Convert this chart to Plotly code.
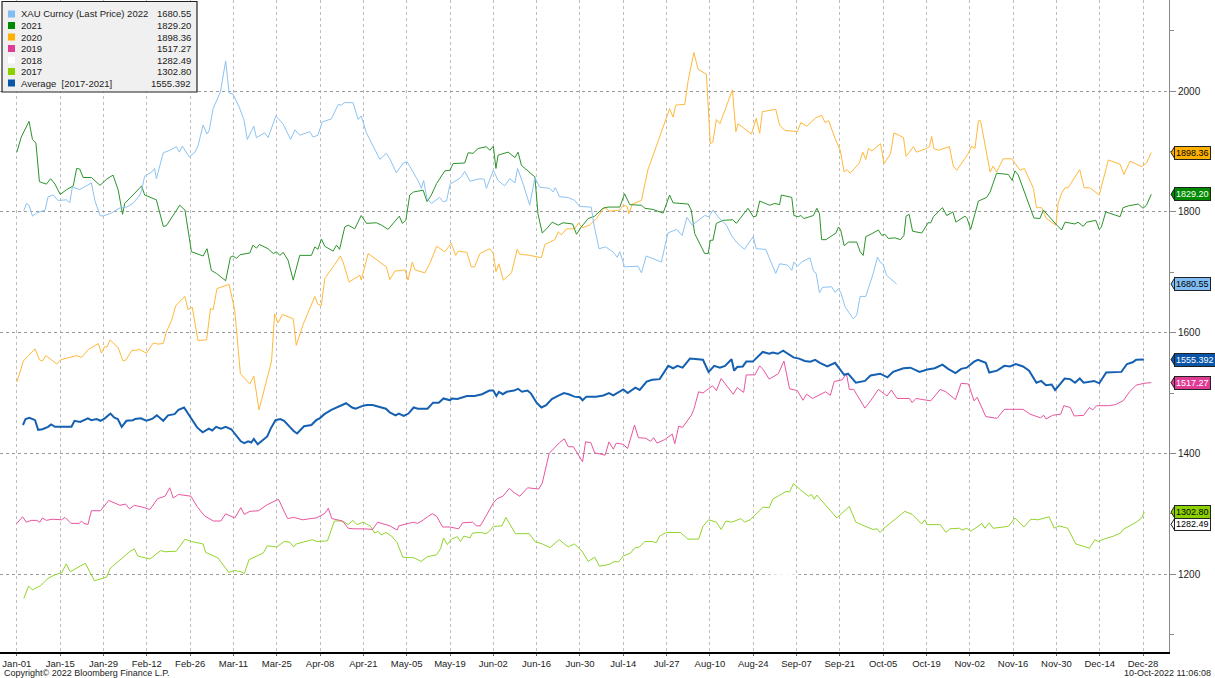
import plotly.graph_objects as go

# x = trading day of the year (0 = Jan-01), y = XAU price
tick_days = list(range(0, 270, 10))
tick_labels = ["Jan-01", "Jan-15", "Jan-29", "Feb-12", "Feb-26", "Mar-11", "Mar-25", "Apr-08",
               "Apr-21", "May-05", "May-19", "Jun-02", "Jun-16", "Jun-30", "Jul-14", "Jul-27",
               "Aug-10", "Aug-24", "Sep-07", "Sep-21", "Oct-05", "Oct-19", "Nov-02", "Nov-16",
               "Nov-30", "Dec-14", "Dec-28"]

d22 = [1.6, 2.2, 2.8, 3.6, 4.5, 6.5, 7.2, 8.4, 9.5, 11.5,
       12.2, 12.8, 14.5, 17.2, 18, 19.2, 19.9, 21.8, 23.6, 25.3,
       26.8, 28.4, 28.8, 29.5, 31.1, 31.8, 32.2, 33.8, 35.3, 36.8,
       37.5, 38.2, 39.8, 41.1, 41.8, 43, 43.9, 44.4, 45.3, 47,
       48.2, 49, 49.9, 51.3, 52.4, 53.2, 54.7, 55.3, 57.2, 58,
       59.8, 61.5, 63.2, 64.2, 65.3, 67.6, 68.4, 69.5, 70.5, 72.6,
       74.2, 74.9, 75.7, 77.6, 78.8, 79.5, 80.7, 82.6, 83.8, 85.3,
       86.1, 87.6, 89.2, 90.1, 91.5, 92.6, 93.4, 93.9, 94.7, 95.7,
       97.6, 98.4, 99.2, 100, 101.9, 102.6, 103.4, 104.6, 106.9, 107.9,
       108.4, 109.2, 110, 111.1, 112.6, 113.8, 115, 115.6, 116.9, 118.4,
       119.6, 120.7, 123, 123.8, 124.3, 125.3, 127.2, 128.8, 129.9, 132.6,
       133.2, 134.4, 135.9, 137.6, 138.6, 139.2, 140.3, 143.4, 144.2, 145.3,
       147.3, 148.8, 150.3, 152.3, 153.6, 154.7, 155.9, 158.8, 159.8, 160.7,
       161.9, 163.8, 165, 166.1, 168, 169.2, 170, 170.7, 172.9, 175.2,
       176.1, 177.9, 178.9, 179.4, 180.2, 181.2, 183.1, 183.9, 184.5, 185.3,
       186, 188.1, 188.9, 189.7, 190.3, 191.2, 193.1, 193.9, 194.7, 196,
       197.7, 198.7, 199.3, 200, 200.8, 203.1]
v22 = [1802, 1814, 1811, 1793, 1798, 1803, 1825, 1828, 1819, 1820,
       1815, 1841, 1837, 1848, 1819, 1794, 1793, 1798, 1806, 1808,
       1814, 1828, 1836, 1859, 1866, 1872, 1855, 1898, 1902, 1908,
       1899, 1909, 1891, 1899, 1909, 1944, 1929, 1935, 1971, 1999,
       2050, 1997, 1995, 1974, 1953, 1920, 1942, 1923, 1931, 1923,
       1959, 1945, 1920, 1936, 1927, 1933, 1924, 1927, 1949, 1954,
       1978, 1977, 1981, 1981, 1953, 1959, 1931, 1905, 1887, 1897,
       1888, 1865, 1881, 1883, 1866, 1852, 1839, 1852, 1822, 1814,
       1824, 1817, 1818, 1846, 1854, 1858, 1867, 1851, 1855, 1854,
       1839, 1854, 1869, 1852, 1843, 1855, 1848, 1872, 1846, 1811,
       1857, 1841, 1839, 1833, 1840, 1825, 1824, 1819, 1809, 1808,
       1780, 1739, 1742, 1734, 1725, 1734, 1709, 1710, 1699, 1727,
       1721, 1717, 1765, 1771, 1761, 1791, 1778, 1794, 1792, 1803,
       1792, 1778, 1761, 1750, 1738, 1752, 1759, 1739, 1738, 1698,
       1714, 1712, 1703, 1717, 1710, 1717, 1724, 1702, 1699, 1666,
       1675, 1676, 1667, 1673, 1665, 1643, 1623, 1629, 1660, 1660,
       1698, 1725, 1717, 1713, 1695, 1680.55]

d21 = [0, 1, 2.8, 3.6, 4.4, 5.2, 6.8, 7.8, 8.8, 10,
       11.5, 13, 13.8, 14.5, 15.3, 17.2, 19.2, 20.7, 22.2, 23.4,
       24.4, 24.9, 26.8, 28.8, 29.5, 32.2, 33.8, 34.5, 37.6, 38.8,
       40.3, 43, 43.9, 44.9, 46.1, 48.2, 49.3, 49.9, 50.7, 51.5,
       53.8, 54.5, 55.3, 56, 58, 59.2, 59.9, 60.7, 61.5, 62.6,
       63.8, 65.3, 68, 68.8, 69.5, 70.3, 71.1, 73, 73.8, 74.5,
       75.7, 76.5, 78, 79.5, 80.7, 83, 84.2, 85.7, 88.3, 89,
       89.8, 90.7, 91.6, 93.8, 94.7, 95.7, 96.9, 98.8, 100, 100.7,
       103.4, 104.2, 105.3, 106.5, 108.4, 109.2, 110, 110.6, 111.1, 113.4,
       115, 115.7, 116.5, 118.8, 119.6, 120.3, 121.3, 122.3, 123.6, 125,
       126.1, 128.3, 129.2, 130.3, 131.9, 133.4, 135.3, 136.5, 139.2, 140.3,
       141.5, 144.2, 145, 146.9, 149.2, 150.7, 151.5, 155, 155.7, 156.5,
       158.8, 159.6, 160.1, 160.7, 161.5, 163, 165.3, 166.1, 168.8, 170,
       170.7, 171.5, 173.8, 175, 176.1, 176.5, 178.9, 179.4, 180.4, 181,
       181.7, 183.9, 184.7, 185.3, 185.8, 186.8, 189.1, 189.7, 190.2, 191,
       192, 193.9, 194.7, 195.4, 196, 197.4, 198.9, 199.7, 200.4, 201.2,
       202.7, 204, 204.8, 205.3, 206, 206.8, 208.9, 210.4, 211, 211.6,
       213.7, 214.7, 216.1, 216.8, 218.9, 219.4, 220.2, 221.2, 222, 223.9,
       224.7, 226.2, 228.9, 229.8, 230.4, 231.2, 234.8, 236.2, 237, 240.1,
       241.2, 242, 244.3, 245, 246.2, 247, 249.1, 249.9, 250.4, 251.4,
       254.7, 255.4, 256.6, 258.9, 260, 260.8, 261.9]
v21 = [1899, 1924, 1950, 1920, 1914, 1850, 1846, 1855, 1846, 1829,
       1837, 1843, 1872, 1871, 1857, 1857, 1844, 1854, 1861, 1836,
       1796, 1814, 1828, 1843, 1828, 1820, 1776, 1777, 1811, 1803,
       1734, 1727, 1739, 1703, 1698, 1686, 1725, 1727, 1723, 1729,
       1732, 1745, 1740, 1746, 1739, 1731, 1734, 1728, 1733, 1720,
       1687, 1728, 1728, 1742, 1738, 1755, 1743, 1735, 1745, 1738,
       1775, 1778, 1772, 1794, 1781, 1782, 1778, 1771, 1793, 1781,
       1786, 1828, 1833, 1836, 1817, 1828, 1847, 1868, 1869, 1880,
       1881, 1898, 1897, 1905, 1908, 1902, 1909, 1872, 1894, 1899,
       1890, 1899, 1877, 1864, 1858, 1797, 1765, 1772, 1783, 1778,
       1782, 1780, 1763, 1775, 1789, 1793, 1806, 1808, 1808, 1830,
       1812, 1811, 1806, 1804, 1798, 1828, 1815, 1813, 1803, 1764,
       1731, 1731, 1753, 1753, 1781, 1786, 1787, 1781, 1806, 1792,
       1793, 1818, 1811, 1814, 1812, 1828, 1824, 1794, 1792, 1794,
       1789, 1794, 1806, 1797, 1754, 1754, 1765, 1775, 1770, 1744,
       1750, 1750, 1734, 1728, 1759, 1764, 1770, 1761, 1763, 1756,
       1757, 1754, 1761, 1793, 1796, 1768, 1765, 1782, 1782, 1792,
       1807, 1794, 1800, 1783, 1793, 1789, 1771, 1797, 1818, 1824,
       1833, 1864, 1862, 1852, 1868, 1861, 1790, 1789, 1803, 1778,
       1770, 1783, 1780, 1783, 1776, 1783, 1786, 1771, 1775, 1800,
       1792, 1807, 1810, 1813, 1806, 1811, 1829.20]

d20 = [0, 1.5, 2.6, 4.2, 5.2, 5.9, 6.7, 9.2, 10.1, 11.1,
       12.2, 13.8, 14.9, 16.5, 18.8, 19.5, 20.3, 20.8, 21.5, 23.4,
       24.5, 25.2, 26.5, 28.4, 29.9, 31.5, 32.6, 33.8, 34.5, 35.7,
       36.7, 38.8, 39.5, 40.5, 41.8, 43.8, 44.7, 45.3, 46.2, 49,
       50.3, 51.6, 53.8, 54.7, 55.9, 58.8, 59.5, 60.3, 61.3, 63.8,
       64.5, 66.1, 68.8, 69.5, 70.3, 71.1, 73.4, 74.7, 75.3, 76.7,
       79.2, 79.5, 81.1, 84.2, 85.3, 86.1, 87.3, 89.6, 90.3, 91.3,
       91.9, 94.2, 95.5, 96.9, 98.8, 100.3, 101.3, 101.9, 103.9, 104.9,
       105.7, 106.9, 109.2, 110, 110.6, 111.3, 112.3, 114.2, 115.5, 116.1,
       118.4, 121.1, 121.9, 124.2, 125, 125.7, 126.9, 128.8, 129.6, 130.7,
       132.2, 133.8, 135.7, 136.9, 139.2, 140, 140.9, 141.3, 142.1, 144.2,
       145.7, 147.6, 149.2, 150.7, 151.5, 152.1, 154.2, 155, 156.3, 157.3,
       159.2, 160.1, 160.7, 161.5, 162.3, 165.2, 166, 166.5, 169.6, 170.7,
       171.5, 172.1, 175.2, 176.1, 177.3, 180.2, 181, 182.4, 184.5, 185.8,
       186.6, 187.4, 188.9, 190.1, 191, 191.6, 192.4, 194.5, 195.3, 196,
       196.6, 197.4, 199.4, 200.2, 201.7, 202.5, 204.7, 205.3, 207, 207.7,
       210, 210.7, 211.2, 211.7, 212.7, 215.3, 216.2, 217, 219.7, 220.4,
       221.2, 222, 222.5, 224.7, 225.4, 226.2, 227.7, 229.7, 231.6, 232.6,
       234.7, 235.4, 236.6, 237.7, 239.9, 240.4, 241.2, 242, 242.7, 245.4,
       246.4, 247.7, 249.9, 250.8, 252, 254.7, 255.6, 257, 259.7, 260.8,
       261.9]
v20 = [1518, 1553, 1562, 1573, 1555, 1553, 1562, 1548, 1555, 1557,
       1560, 1562, 1559, 1572, 1582, 1566, 1577, 1576, 1588, 1575,
       1553, 1555, 1570, 1572, 1566, 1583, 1581, 1582, 1601, 1620,
       1645, 1660, 1638, 1642, 1587, 1588, 1640, 1638, 1673, 1680,
       1637, 1532, 1515, 1528, 1472, 1553, 1631, 1616, 1630, 1623,
       1579, 1614, 1660, 1647, 1645, 1690, 1713, 1727, 1717, 1684,
       1695, 1687, 1731, 1715, 1709, 1688, 1702, 1704, 1687, 1717,
       1704, 1699, 1717, 1743, 1734, 1748, 1728, 1735, 1733, 1709,
       1709, 1731, 1739, 1731, 1701, 1714, 1687, 1699, 1738, 1730,
       1728, 1724, 1746, 1754, 1767, 1762, 1772, 1772, 1781, 1774,
       1778, 1789, 1808, 1801, 1803, 1811, 1809, 1797, 1813, 1819,
       1870, 1908, 1940, 1971, 1957, 1977, 1978, 2018, 2064, 2036,
       2028, 1913, 1916, 1953, 1946, 2002, 1933, 1946, 1929, 1955,
       1930, 1966, 1970, 1944, 1935, 1933, 1948, 1942, 1956, 1960,
       1948, 1951, 1922, 1902, 1866, 1870, 1864, 1881, 1899, 1887,
       1905, 1901, 1913, 1880, 1896, 1931, 1923, 1892, 1908, 1899,
       1905, 1908, 1925, 1905, 1902, 1908, 1876, 1869, 1897, 1909,
       1905, 1951, 1951, 1866, 1876, 1866, 1888, 1888, 1869, 1872,
       1839, 1807, 1807, 1789, 1778, 1814, 1831, 1840, 1840, 1870,
       1840, 1840, 1828, 1855, 1886, 1879, 1862, 1884, 1875, 1881,
       1898.36]

d19 = [0, 1.3, 2.2, 3.3, 4.6, 5.3, 5.9, 6.8, 8.1, 10.3,
       11.1, 12.5, 14.4, 14.9, 15.5, 16.4, 17.2, 19.3, 21.2, 22.5,
       23.8, 25.1, 26, 27.1, 29, 30.7, 32.5, 34.2, 35.3, 36.1,
       37.3, 40.2, 41.6, 43.4, 45.4, 47.1, 48.2, 50.3, 51.7, 52.5,
       53.8, 55.8, 57.8, 60.4, 62.5, 63.9, 66, 67.8, 69.1, 71,
       71.9, 72.7, 75.2, 76.5, 77.8, 80.2, 82.1, 83.3, 84.8, 86.1,
       87.8, 88.2, 90.4, 91.7, 92.4, 93.5, 94.8, 95.9, 96.9, 98.3,
       100, 102, 102.9, 105.2, 106.1, 107, 108.3, 110, 110.9, 112.2,
       113.7, 114.8, 116.1, 117.9, 120.5, 121.3, 122.9, 123.8, 125.3, 126.4,
       127.3, 128.5, 129.6, 130.6, 131.3, 132.5, 133.4, 135.8, 136.7, 137.7,
       138.4, 140, 141, 142.6, 143.5, 145.2, 146.3, 147, 147.8, 149.6,
       151.3, 151.9, 152.8, 153.7, 155.7, 156.3, 157.4, 158.4, 160.6, 161.5,
       162.6, 165.4, 166.3, 167.8, 168.4, 170.4, 171.5, 172.3, 173.7, 175.4,
       175.8, 177.1, 178.4, 180.2, 181.5, 182.3, 183.7, 186.7, 187.8, 188.7,
       190.6, 191.5, 192.2, 193.2, 195.8, 197.1, 198.9, 200.9, 201.9, 203.2,
       206.1, 206.7, 207.6, 211, 213.2, 214.5, 216.7, 218, 219.7, 221,
       221.7, 223.7, 226.3, 228, 232.3, 233.9, 236.3, 237.1, 237.6, 239.1,
       241, 241.7, 243.2, 244.1, 246.3, 247.6, 248.4, 249.3, 252.3, 253.7,
       255.4, 256.9, 258.4, 260.2, 261.9]
v19 = [1284, 1295, 1286, 1289, 1289, 1286, 1293, 1289, 1291, 1290,
       1294, 1284, 1284, 1288, 1284, 1282, 1305, 1305, 1322, 1318,
       1314, 1316, 1308, 1314, 1311, 1307, 1325, 1329, 1343, 1326,
       1332, 1329, 1312, 1296, 1288, 1288, 1300, 1293, 1310, 1299,
       1304, 1305, 1315, 1324, 1292, 1294, 1290, 1292, 1293, 1300,
       1309, 1292, 1288, 1276, 1275, 1275, 1274, 1286, 1283, 1280,
       1273, 1280, 1284, 1286, 1284, 1288, 1295, 1300, 1296, 1278,
       1278, 1275, 1285, 1286, 1280, 1280, 1296, 1318, 1325, 1329,
       1342, 1335, 1329, 1343, 1341, 1351, 1400, 1407, 1418, 1424,
       1411, 1411, 1398, 1386, 1419, 1418, 1401, 1397, 1419, 1407,
       1417, 1415, 1408, 1447, 1426, 1425, 1420, 1426, 1417, 1423,
       1432, 1416, 1445, 1443, 1463, 1473, 1502, 1500, 1512, 1504,
       1524, 1498, 1509, 1501, 1530, 1530, 1545, 1539, 1523, 1530,
       1532, 1553, 1507, 1504, 1488, 1498, 1491, 1502, 1496, 1519,
       1522, 1533, 1506, 1506, 1475, 1487, 1506, 1495, 1505, 1491,
       1491, 1484, 1491, 1487, 1506, 1502, 1489, 1516, 1515, 1487,
       1493, 1461, 1458, 1473, 1473, 1465, 1459, 1463, 1457, 1463,
       1465, 1479, 1476, 1462, 1463, 1476, 1472, 1479, 1479, 1481,
       1487, 1502, 1513, 1516, 1517.27]

# 2018 is drawn in white in the source chart (only its tag shows)
d18 = [0, 20, 40, 60, 75, 90, 105, 120, 140, 160, 180, 200, 220, 240, 261.9]
v18 = [1303, 1335, 1320, 1330, 1345, 1315, 1295, 1265, 1230, 1195, 1200, 1220, 1225, 1240, 1282.49]

d17 = [1.6, 2.7, 3.6, 5.5, 7.2, 8.8, 10.3, 11.4, 12.3, 13.8,
       15.8, 17.9, 20.7, 21.6, 26, 27.1, 27.9, 30.7, 33.2, 34.2,
       36.8, 38.8, 40.3, 43, 43.6, 46.4, 48.9, 50.3, 51.7, 52.5,
       53.6, 56.9, 57.8, 60, 61.7, 63, 63.9, 64.5, 68.2, 69.3,
       71.7, 73.3, 74.7, 75.6, 76.5, 77.6, 78.5, 80, 81.7, 82.6,
       83.4, 84.1, 85.2, 86.5, 87.8, 89.1, 91.7, 93.3, 94.8, 96.9,
       97.8, 98.5, 99.4, 100.3, 101.7, 102.4, 103.2, 104.6, 105.2, 107,
       108.3, 109.1, 110, 112, 112.9, 115.1, 118.3, 119.6, 121.3, 123.1,
       125.2, 127.3, 128.7, 130.5, 131.9, 133.4, 134.5, 136.7, 138, 138.9,
       140, 141.7, 142.6, 143.7, 145, 146.7, 147.6, 148.4, 149.9, 153.2,
       154.9, 157.4, 158.4, 159.7, 161.5, 162.6, 163.7, 165, 167.2, 168,
       169.3, 172.3, 173.7, 174.5, 177.6, 178.4, 179.3, 181, 182.8, 183.5,
       184.1, 184.7, 187.1, 189.3, 192.2, 193.7, 197.6, 198.6, 199.3, 200.2,
       205, 206.7, 208.9, 209.6, 210.2, 213.2, 214.5, 215.4, 217.6, 218.3,
       219.3, 220.2, 221.9, 222.8, 223.5, 224.5, 225.4, 228.9, 230.4, 232.5,
       234.1, 235.8, 238.3, 239.5, 240.6, 242.6, 244.5, 247.6, 248.9, 249.7,
       251, 253.2, 254.8, 255.4, 258.4, 259.7, 260.3]
v17 = [1160, 1180, 1174, 1181, 1193, 1199, 1202, 1217, 1204, 1210,
       1218, 1189, 1195, 1210, 1237, 1242, 1230, 1225, 1239, 1237,
       1238, 1258, 1254, 1250, 1236, 1227, 1203, 1206, 1204, 1201,
       1224, 1235, 1247, 1245, 1254, 1253, 1245, 1250, 1257, 1254,
       1255, 1288, 1288, 1286, 1282, 1289, 1282, 1286, 1279, 1268,
       1271, 1265, 1269, 1263, 1252, 1228, 1227, 1221, 1229, 1232,
       1242, 1260, 1249, 1258, 1262, 1254, 1263, 1260, 1268, 1269,
       1267, 1271, 1279, 1280, 1294, 1267, 1267, 1254, 1250, 1244,
       1257, 1245, 1250, 1238, 1221, 1228, 1213, 1216, 1221, 1220,
       1230, 1235, 1243, 1245, 1254, 1254, 1252, 1263, 1269, 1269,
       1258, 1258, 1279, 1290, 1286, 1274, 1288, 1286, 1292, 1286,
       1290, 1311, 1310, 1324, 1337, 1336, 1350, 1339, 1329, 1332,
       1324, 1331, 1312, 1293, 1312, 1286, 1274, 1275, 1269, 1276,
       1304, 1299, 1283, 1290, 1282, 1282, 1269, 1275, 1276, 1273,
       1276, 1271, 1279, 1284, 1276, 1285, 1276, 1279, 1293, 1278,
       1291, 1290, 1295, 1276, 1280, 1276, 1250, 1243, 1257, 1254,
       1258, 1263, 1268, 1274, 1286, 1293, 1302.80]

davg = [1.4, 2, 2.9, 4.2, 4.9, 5.9, 7.2, 7.9, 8.8, 10.3,
        11.6, 12.6, 13.3, 14.6, 16.4, 17.2, 18.4, 19.3, 20.3, 21.6,
        22.5, 23.3, 24.2, 25.3, 26.8, 27.3, 28.6, 29.9, 31.2, 32.3,
        33.8, 34.9, 36.4, 37.3, 38.6, 40.3, 41.6, 42.9, 44.3, 45.1,
        46, 47.1, 48.2, 49.5, 50.3, 51.7, 52.5, 53.4, 54.1, 54.7,
        55.6, 56.4, 57.8, 58.6, 59.7, 60.8, 61.7, 63, 63.9, 64.7,
        66.3, 68, 69.1, 69.9, 71, 72.6, 73.9, 75.3, 76, 77.4,
        78.2, 80, 80.8, 82.1, 83.9, 85.2, 86.1, 87.4, 88.2, 89.3,
        90.4, 91.6, 92.6, 94.8, 96.1, 97.4, 98.5, 100, 100.4, 101.7,
        103.9, 105.7, 107.4, 109.1, 110, 110.7, 111.3, 112.2, 113.1, 114.8,
        115.7, 116.6, 117.9, 118.7, 120, 121.1, 122.2, 123.5, 124.8, 126.3,
        127.4, 128.7, 130, 130.6, 131.5, 133.7, 135.4, 136.7, 137.7, 138.9,
        140, 141, 142.8, 143.8, 145.4, 146.7, 148.4, 150.4, 151.5, 152.5,
        153.7, 155.4, 158.4, 159.7, 161, 162.3, 163.5, 165, 165.6, 166.3,
        167.6, 168.4, 169.9, 172.2, 173.7, 174.5, 175.7, 176.9, 179.3, 180.6,
        181.9, 183.2, 184.3, 185.4, 187.1, 188.9, 190.2, 191, 191.9, 193.7,
        195.8, 197.1, 199.3, 201, 202.3, 203.7, 204.7, 206.3, 208.4, 210.2,
        211.9, 213.7, 215, 216.7, 218, 219.3, 221, 221.9, 223.7, 224.5,
        226.3, 228, 229.3, 230.6, 232.3, 233.7, 235.4, 236.5, 237.6, 238.9,
        239.7, 240.9, 241.9, 243.2, 244.3, 245.4, 246.3, 248.7, 249.9, 251.5,
        253.2, 255, 256.3, 257.6, 258.4, 260.2]
vavg = [1447, 1457, 1459, 1455, 1439, 1440, 1444, 1448, 1444, 1444,
        1445, 1444, 1454, 1452, 1458, 1455, 1457, 1454, 1458, 1466,
        1459, 1457, 1444, 1454, 1455, 1457, 1458, 1454, 1457, 1463,
        1454, 1463, 1465, 1472, 1476, 1457, 1443, 1435, 1441, 1438,
        1444, 1441, 1444, 1440, 1433, 1420, 1417, 1420, 1418, 1424,
        1415, 1420, 1428, 1441, 1455, 1457, 1454, 1444, 1437, 1433,
        1445, 1447, 1455, 1458, 1465, 1472, 1476, 1481, 1483, 1476,
        1474, 1479, 1480, 1480, 1476, 1474, 1468, 1463, 1466, 1462,
        1466, 1476, 1474, 1474, 1484, 1484, 1491, 1488, 1491, 1490,
        1495, 1495, 1498, 1504, 1504, 1495, 1502, 1498, 1502, 1504,
        1507, 1502, 1504, 1499, 1484, 1476, 1480, 1490, 1495, 1500,
        1498, 1494, 1493, 1488, 1494, 1494, 1496, 1500, 1496, 1501,
        1506, 1500, 1509, 1505, 1519, 1522, 1523, 1545, 1541, 1545,
        1542, 1557, 1555, 1535, 1545, 1542, 1545, 1556, 1537, 1543,
        1544, 1552, 1552, 1568, 1565, 1567, 1565, 1570, 1559, 1557,
        1553, 1552, 1555, 1550, 1544, 1550, 1537, 1530, 1532, 1517,
        1520, 1529, 1532, 1526, 1535, 1539, 1541, 1542, 1535, 1539,
        1541, 1547, 1540, 1533, 1540, 1542, 1552, 1555, 1550, 1534,
        1537, 1545, 1544, 1548, 1544, 1537, 1517, 1520, 1513, 1514,
        1505, 1515, 1524, 1523, 1517, 1524, 1517, 1520, 1516, 1534,
        1535, 1535, 1548, 1551, 1555, 1555.392]

series = [
    # name, days, values, line colour, width, tag bg, tag text colour
    ("2018", d18, v18, "#ffffff", 1, "#ffffff", "#000000"),
    ("2017", d17, v17, "#93d42c", 1, "#8cd000", "#000000"),
    ("2019", d19, v19, "#e8559f", 1, "#e03c96", "#ffffff"),
    ("Average  [2017-2021]", davg, vavg, "#1560b0", 2, "#0a55a8", "#ffffff"),
    ("2020", d20, v20, "#ffb83a", 1, "#ffb000", "#000000"),
    ("2021", d21, v21, "#2b932b", 1, "#008a00", "#ffffff"),
    ("XAU Curncy (Last Price) 2022", d22, v22, "#8cc3f2", 1, "#80bdf5", "#000000"),
]
for s in series:
    assert len(s[1]) == len(s[2]), s[0]

legend_order = ["XAU Curncy (Last Price) 2022", "2021", "2020", "2019", "2018", "2017",
                "Average  [2017-2021]"]
legend_values = ["1680.55", "1829.20", "1898.36", "1517.27", "1282.49", "1302.80", "1555.392"]
legend_colors = ["#80bdf5", "#008a00", "#ffb000", "#e03c96", "#ffffff", "#8cd000", "#0a55a8"]

W, H = 1215, 678
PW, PH = 1169, 652   # plot area in pixels
FONT = "Liberation Sans"

fig = go.Figure()
for name, dx, vy, col, lw, _, _ in series:
    fig.add_trace(go.Scatter(x=dx, y=vy, mode="lines", name=name,
                             line=dict(color=col, width=lw), hoverinfo="skip"))

shapes = []
annotations = []


def px(x):
    return x / PW


def py(y):
    return 1 - y / PH


# legend box (top-left)
shapes.append(dict(type="rect", xref="paper", yref="paper",
                   x0=px(2), x1=px(197), y0=py(1.5), y1=py(92),
                   fillcolor="#f0f0f0", line=dict(color="#222222", width=1.2), layer="above"))
for i, (nm, val, col) in enumerate(zip(legend_order, legend_values, legend_colors)):
    yc = 14 + i * 11.5
    shapes.append(dict(type="rect", xref="paper", yref="paper",
                       x0=px(8), x1=px(15), y0=py(yc - 3.5), y1=py(yc + 3.5),
                       fillcolor=col, line=dict(width=0), layer="above"))
    annotations.append(dict(xref="paper", yref="paper", x=px(19), y=py(yc), text=nm,
                            showarrow=False, xanchor="left", yanchor="middle",
                            font=dict(family=FONT, size=9.5, color="#222222")))
    annotations.append(dict(xref="paper", yref="paper", x=px(193), y=py(yc), text=val,
                            showarrow=False, xanchor="right", yanchor="middle",
                            font=dict(family=FONT, size=9.5, color="#222222")))

# value tags on the right axis
dv = 6.5 * (2151 - 1071) / PH
for name, dx, vy, col, lw, tagbg, tagfg in series:
    v = vy[-1]
    shapes.append(dict(type="path", xref="paper", yref="y",
                       path=f"M {1 + 2 / PW},{v} L {1 + 6 / PW},{v + dv} L {1 + 6 / PW},{v - dv} Z",
                       fillcolor=tagbg, line=dict(color="#222222", width=1), layer="above"))
    label = f"{v:.3f}" if name.startswith("Average") else f"{v:.2f}"
    annotations.append(dict(xref="paper", yref="y", x=1, y=v, xshift=5, text=label,
                            showarrow=False, xanchor="left", yanchor="middle", align="left",
                            bgcolor=tagbg, bordercolor="#222222", borderwidth=1, borderpad=1,
                            font=dict(family=FONT, size=9, color=tagfg)))

# footer
annotations.append(dict(xref="paper", yref="paper", x=0, y=0, xshift=2, yshift=-21,
                        text="Copyright\u00a9 2022 Bloomberg Finance L.P.", showarrow=False,
                        xanchor="left", yanchor="middle",
                        font=dict(family=FONT, size=9, color="#222222")))
annotations.append(dict(xref="paper", yref="paper", x=1, y=0, xshift=44, yshift=-21,
                        text="10-Oct-2022 11:06:08", showarrow=False,
                        xanchor="right", yanchor="middle",
                        font=dict(family=FONT, size=9, color="#222222")))

fig.update_layout(
    width=W, height=H,
    margin=dict(l=0, r=W - PW, t=0, b=H - PH, pad=0),
    paper_bgcolor="white", plot_bgcolor="white",
    showlegend=False, hovermode=False,
    shapes=shapes, annotations=annotations,
    xaxis=dict(range=[-3.9, 266], tickmode="array", tickvals=tick_days, ticktext=tick_labels,
               showgrid=True, gridcolor="#bdbdbd", griddash="dot", gridwidth=1,
               showline=True, linecolor="#000000", linewidth=1.5,
               ticks="outside", ticklen=2, tickcolor="#666666", zeroline=False,
               ticklabelstandoff=0,
               tickfont=dict(family=FONT, size=9.5, color="#222222")),
    yaxis=dict(range=[1071, 2151], side="right", tickmode="array",
               tickvals=[1200, 1400, 1600, 1800, 2000],
               showgrid=True, gridcolor="#9a9a9a", griddash="dot", gridwidth=1,
               showline=True, linecolor="#8a8a8a", linewidth=1,
               ticks="outside", ticklen=6, tickcolor="#8a8a8a", zeroline=False,
               minor=dict(tickvals=[1100, 1300, 1500, 1700, 1900, 2100], ticks="outside",
                          ticklen=4, tickcolor="#8a8a8a", showgrid=False),
               tickfont=dict(family=FONT, size=10, color="#222222")),
)

# the page body has an 8px margin by default; drop it so the figure fills the window
fig.write_html("out.html", config={"displayModeBar": False},
               post_script="document.body.style.margin='0px';")
